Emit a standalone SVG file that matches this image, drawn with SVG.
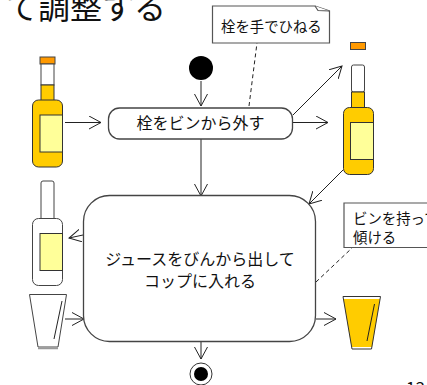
<svg xmlns="http://www.w3.org/2000/svg" width="427" height="385" viewBox="0 0 427 385">
<style>
text{font-family:"Noto Sans CJK JP","Liberation Sans",sans-serif;fill:#111}
.t{font-size:16px;text-anchor:middle}
.n{font-size:14.4px}
.box{fill:#fff;stroke:#444;stroke-width:1.3}
.note{fill:#fff;stroke:#555;stroke-width:1.2}
.c{fill:none;stroke:#222;stroke-width:1}
.d{fill:none;stroke:#222;stroke-width:1;stroke-dasharray:4 3}
.cap{fill:#f90;stroke:#444;stroke-width:1}
.neck{fill:#fc0;stroke:#333;stroke-width:1}
.w{fill:#fff;stroke:#444;stroke-width:1}
.lab{fill:#ff9;stroke:#333;stroke-width:1}
</style>
<defs>
<marker id="a" markerWidth="14" markerHeight="14" refX="12" refY="7" orient="auto" markerUnits="userSpaceOnUse"><path d="M0 0.5L12 7L0 13.500" fill="none" stroke="#222" stroke-width="1"/></marker>
</defs>
<text x="6" y="19" style="font-size:32px">て調整する</text>
<g id="connectors">
<path class="c" d="M201 81V106" marker-end="url(#a)"/>
<path class="c" d="M65 122.500H101" marker-end="url(#a)"/>
<path class="c" d="M201 139V196" marker-end="url(#a)"/>
<path class="c" d="M293 115L342 66" marker-end="url(#a)"/>
<path class="c" d="M293 122.500H328" marker-end="url(#a)"/>
<path class="c" d="M343 170L309 204" marker-end="url(#a)"/>
<path class="c" d="M83 235L69 238" marker-end="url(#a)"/>
<path class="c" d="M65 319H84" marker-end="url(#a)"/>
<path class="c" d="M316 319H336" marker-end="url(#a)"/>
<path class="c" d="M201 342V359" marker-end="url(#a)"/>
<path class="d" d="M249 106L257 43"/>
<path class="d" d="M316 282L352 248"/>
</g>
<g id="start"><circle cx="201" cy="68" r="12" fill="#000"/></g>
<g id="remove-stopper">
<rect class="box" x="108.500" y="108" width="184" height="31" rx="11"/>
<text class="t" x="200.500" y="129">栓をビンから外す</text>
</g>
<g id="note-twist">
<path class="note" d="M212.500 6H315L329.500 11V43H212.500Z"/>
<path class="note" d="M315 6L318 10.500L329.500 11"/>
<text class="n" x="221" y="32">栓を手でひねる</text>
</g>
<g id="full-bottle">
<rect class="cap" x="40" y="57" width="15" height="7"/>
<rect class="w" x="41" y="64" width="13" height="21"/>
<rect class="neck" x="41" y="85" width="13" height="16"/>
<rect class="neck" x="32.500" y="100" width="30" height="67" rx="6"/>
<rect class="lab" x="40" y="115" width="22.500" height="37"/>
</g>
<g id="open-bottle">
<rect class="cap" x="350.500" y="42.500" width="15" height="7"/>
<rect class="w" x="351.500" y="65" width="13" height="27" rx="2"/>
<rect class="neck" x="351.500" y="92" width="13" height="16"/>
<rect class="neck" x="343.500" y="107.500" width="30" height="67" rx="6"/>
<rect class="lab" x="350.500" y="122.500" width="23" height="37"/>
</g>
<g id="empty-bottle">
<rect class="w" x="41" y="181" width="13" height="40" rx="2"/>
<rect class="w" x="32.500" y="218.500" width="30" height="67" rx="6"/>
<rect class="lab" x="40" y="233.500" width="22.500" height="37"/>
</g>
<g id="pour">
<rect class="box" x="83.500" y="195.500" width="232" height="146" rx="26"/>
<text class="t" x="200" y="265">ジュースをびんから出して</text>
<text class="t" x="200" y="287">コップに入れる</text>
</g>
<g id="note-tilt">
<path class="note" d="M344 203H430V247.500H344Z"/>
<text class="n" x="353" y="224">ビンを持って</text>
<text class="n" x="353" y="243">傾ける</text>
</g>
<g id="empty-glass">
<path class="w" d="M29.500 294.500H66.500L58 347H38Z"/>
<path class="c" d="M62 301L54 339"/>
<path d="M38 348.500H58" stroke="#999" stroke-width="1.500"/>
</g>
<g id="full-glass">
<path d="M343 296.500H380.500L371.500 349H352Z" fill="#fff"/>
<path d="M343.400 299H380L372 347H351.500Z" fill="#fc0"/>
<path d="M343 296.500H380.500L371.500 349H352Z" fill="none" stroke="#333" stroke-width="1"/>
<path class="c" d="M374.500 304L367 341"/>
</g>
<g id="end">
<circle cx="201" cy="374" r="11" fill="#fff" stroke="#333" stroke-width="1"/>
<circle cx="201" cy="374" r="7" fill="#000"/>
</g>
<text x="406" y="394" style="font-size:17px">13</text>
</svg>
